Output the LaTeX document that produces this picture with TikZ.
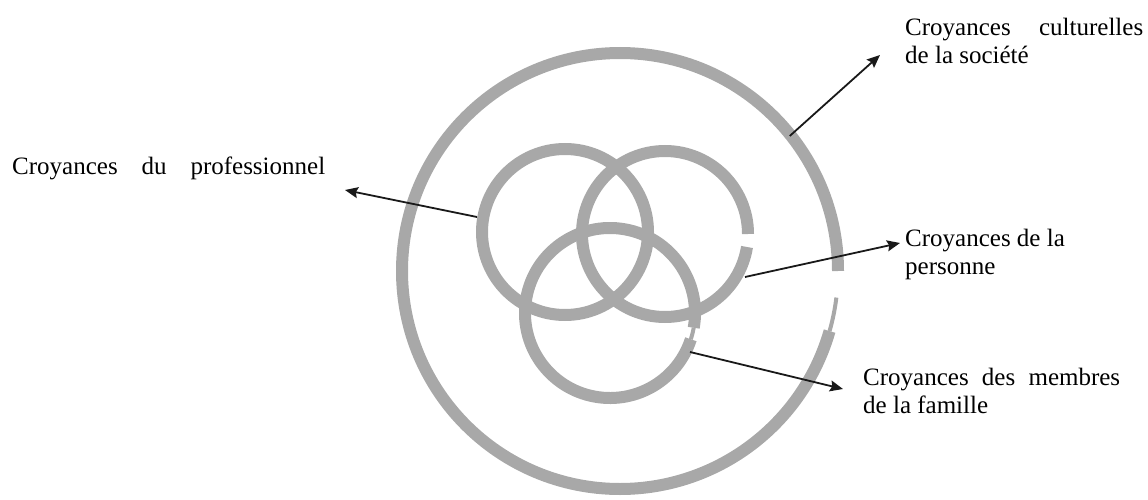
\documentclass[tikz,border=0pt]{standalone}
\usepackage{fontspec}
\setmainfont{Liberation Serif}
\usetikzlibrary{arrows.meta,calc}
\definecolor{ringgray}{RGB}{168,168,168}
\newcommand\lbltab[1]{\begin{tabular}[t]{@{}l@{}}#1\end{tabular}}
\begin{document}
\begin{tikzpicture}[x=1pt,y=1pt,
  ring/.style={draw=ringgray,line width=12pt},
  thinring/.style={draw=ringgray,line width=4pt},
  conn/.style={draw=black!90,line width=1.8pt,-{Stealth[length=13pt,width=11pt,inset=2pt]}},
  lbl/.style={inner sep=0pt,anchor=base west,font=\fontsize{25}{28}\selectfont}]
\useasboundingbox (0,0) rectangle (1148,499);
% outer circle
\coordinate (O) at (620,228);
\draw[ring] ($(O)+(0:218)$) arc[start angle=0,end angle=344,radius=218];
\draw[thinring] ($(O)+(-16:218)$) arc[start angle=-16,end angle=-7,radius=218];
% three inner circles
\coordinate (A) at (565,267);
\coordinate (B) at (665,265);
\coordinate (C) at (610,186);
\draw[ring] (A) circle[radius=83];
\draw[ring] ($(B)+(0:83)$) arc[start angle=0,end angle=351,radius=83];
\draw[ring] ($(C)+(-10:85)$) arc[start angle=-10,end angle=342,radius=85];
\draw[thinring] ($(C)+(-18:85)$) arc[start angle=-18,end angle=-10,radius=85];
% labels
\node[lbl] (soc) at (905,463) {\lbltab{\hbox to 238pt{Croyances\hfill culturelles}\\de la société}};
\node[lbl] (pro) at (12,324) {\hbox to 313pt{Croyances\hfill du\hfill professionnel}};
\node[lbl] (per) at (905,253) {\lbltab{Croyances de la\\personne}};
\node[lbl] (fam) at (863,114) {\lbltab{\hbox to 257pt{Croyances\hfill des\hfill membres}\\de la famille}};
% connectors
\coordinate (s1) at ($(O)+(38.5:217)$);
\coordinate (t1) at (880,444);
\coordinate (s2) at (477,282);
\coordinate (t2) at (345,309);
\coordinate (s3) at (745,222);
\coordinate (t3) at (900,256);
\coordinate (s4) at (690,147);
\coordinate (t4) at (843,110);
\draw[conn] (s1) -- (t1);
\draw[conn] (s2) -- (t2);
\draw[conn] (s3) -- (t3);
\draw[conn] (s4) -- (t4);
\end{tikzpicture}
\end{document}
